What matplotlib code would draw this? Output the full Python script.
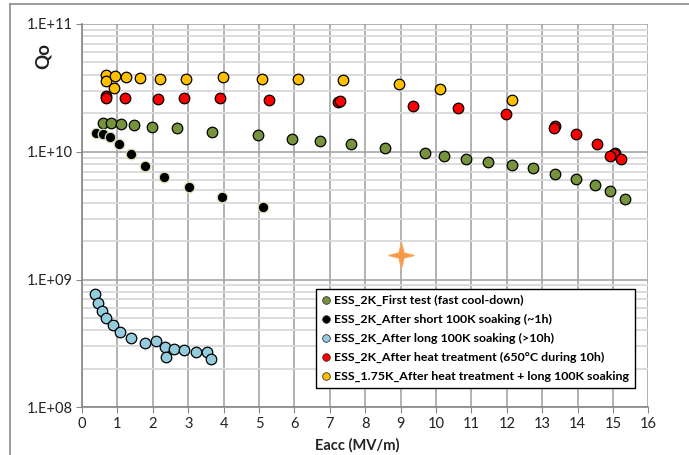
import numpy as np
import matplotlib
matplotlib.use("Agg")
import matplotlib.pyplot as plt
from matplotlib.path import Path
from matplotlib.lines import Line2D

plt.rcParams['font.family'] = ['Lato', 'DejaVu Sans']

# Qo(Eacc) for each test
first_e = [0.58, 0.81, 1.09, 1.47, 1.99, 2.69, 3.67, 4.96, 5.94, 6.72, 7.61, 8.57,
           9.68, 10.23, 10.85, 11.48, 12.14, 12.75, 13.37, 13.95, 14.49, 14.93, 15.35]
first_q = [1.67e10, 1.67e10, 1.64e10, 1.61e10, 1.56e10, 1.53e10, 1.44e10, 1.35e10,
           1.26e10, 1.22e10, 1.15e10, 1.07e10, 9.8e9, 9.3e9, 8.8e9, 8.35e9, 7.87e9,
           7.4e9, 6.7e9, 6.1e9, 5.46e9, 4.9e9, 4.29e9]

short_e = [0.40, 0.58, 0.79, 1.05, 1.38, 1.79, 2.33, 3.03, 3.95, 5.12]
short_q = [1.39e10, 1.38e10, 1.31e10, 1.15e10, 9.6e9, 7.8e9, 6.4e9, 5.3e9, 4.45e9, 3.7e9]

long_e = [0.36, 0.44, 0.56, 0.68, 0.87, 1.08, 1.38, 1.78, 2.08, 2.34, 2.36, 2.61,
          2.89, 3.21, 3.54, 3.65]
long_q = [7.73e8, 6.57e8, 5.69e8, 5.01e8, 4.37e8, 3.87e8, 3.50e8, 3.18e8, 3.28e8,
          2.94e8, 2.48e8, 2.84e8, 2.79e8, 2.73e8, 2.70e8, 2.37e8]

heat_e = [0.68, 0.68, 1.21, 2.15, 2.88, 3.90, 5.28, 7.22, 7.29, 9.35, 10.63, 11.99,
          13.35, 13.33, 13.97, 14.56, 15.05, 15.02, 14.93, 15.23]
heat_q = [2.73e10, 2.62e10, 2.63e10, 2.59e10, 2.62e10, 2.65e10, 2.54e10, 2.47e10,
          2.48e10, 2.28e10, 2.19e10, 1.96e10, 1.59e10, 1.53e10, 1.38e10, 1.16e10,
          9.8e9, 9.6e9, 9.3e9, 8.73e9]

cold_e = [0.69, 0.69, 0.92, 0.90, 1.23, 1.65, 2.20, 2.95, 3.97, 5.08, 6.11, 7.38,
          8.95, 10.11, 12.14]
cold_q = [3.99e10, 3.6e10, 3.92e10, 3.14e10, 3.83e10, 3.8e10, 3.69e10, 3.71e10,
          3.83e10, 3.73e10, 3.73e10, 3.62e10, 3.41e10, 3.1e10, 2.55e10]

star_e = [9.0]
star_q = [1.57e9]

labels = ["ESS_2K_First test (fast cool-down)",
          "ESS_2K_After short 100K soaking (~1h)",
          "ESS_2K_After long 100K soaking (>10h)",
          "ESS_2K_After heat treatment (650°C during 10h)",
          "ESS_1.75K_After heat treatment + long 100K soaking"]
colors = ["#77933C", "#000000", "#93CDDD", "#FF0000", "#FFC000"]

x_ticks = list(range(0, 17))
y_ticks = [1e8, 1e9, 1e10, 1e11]
y_tick_labels = ["1.E+08", "1.E+09", "1.E+10", "1.E+11"]

fig = plt.figure(figsize=(6.89, 4.55), dpi=100)
ax = fig.add_axes([0.119, 0.1048, 0.822, 0.8425])

# chart frame
fig.add_artist(Line2D([10/689, 1.0], [1-4/455, 1-4/455], color="#8c8c8c", lw=1.2))
fig.add_artist(Line2D([10/689, 10/689], [0, 1-4/455], color="#8c8c8c", lw=1.2))

ax.set_yscale("log")
ax.set_xlim(0, 16)
ax.set_ylim(1e8, 1e11)
ax.set_xticks(x_ticks)
ax.set_yticks(y_ticks, y_tick_labels)
ax.yaxis.set_minor_locator(matplotlib.ticker.LogLocator(base=10, subs=np.arange(2, 10)))
ax.yaxis.set_minor_formatter(matplotlib.ticker.NullFormatter())
ax.tick_params(which="minor", length=0)
ax.tick_params(which="major", length=4, color="#868686", labelsize=10.5, labelcolor="#222222", pad=3)

ax.grid(True, which="minor", axis="y", color="#d9d9d9", lw=1.3)
ax.grid(True, which="major", axis="y", color="#a6a6a6", lw=1.2)
ax.grid(True, which="major", axis="x", color="#a6a6a6", lw=1.2)
ax.set_axisbelow(True)
for side in ["top", "right"]:
    ax.spines[side].set_visible(False)
for side in ["left", "bottom"]:
    ax.spines[side].set_color("#868686")
    ax.spines[side].set_linewidth(1.2)

series = [(first_e, first_q), (short_e, short_q), (long_e, long_q),
          (heat_e, heat_q), (cold_e, cold_q)]
for (e, q), lab, col in zip(series, labels, colors):
    ec = "#d6e3bc" if col == "#000000" else "black"
    ax.plot(e, q, "o", ms=7.6, mfc=col, mec=ec, mew=0.9, label=lab, zorder=3)

# four-point star
a = 0.2
star = Path([(0, 1), (a, a), (1, 0), (a, -a), (0, -1), (-a, -a), (-1, 0), (-a, a), (0, 1)],
            [Path.MOVETO] + [Path.LINETO] * 7 + [Path.CLOSEPOLY])
ax.plot(star_e, star_q, ls="none", marker=star, ms=18, mfc="#F79646", mec="#F2A65E",
        mew=1.0, zorder=4)

handles = [Line2D([], [], ls="none", marker="o", ms=5.5, mfc=c, mec="#333333", mew=0.6)
           for c in colors]
leg = ax.legend(handles, labels, loc="upper left", bbox_to_anchor=(0.4127, 0.3086),
                frameon=True, fancybox=False, edgecolor="black", framealpha=1,
                prop={"weight": "bold", "size": 8.9}, handlelength=0.6,
                handletextpad=0.4, labelspacing=0.63, borderpad=0.5, borderaxespad=0)
leg.get_frame().set_linewidth(1.0)

fig.text(357/689, 1-445/455, "Eacc (MV/m)", ha="center", va="center",
         fontsize=10.5, fontweight="bold", color="#222222")
fig.text(43/689, 1-56/455, "Qo", ha="center", va="center", rotation=90,
         fontsize=13.5, fontweight="bold", color="#222222")

fig.savefig("out.png", dpi=100)
